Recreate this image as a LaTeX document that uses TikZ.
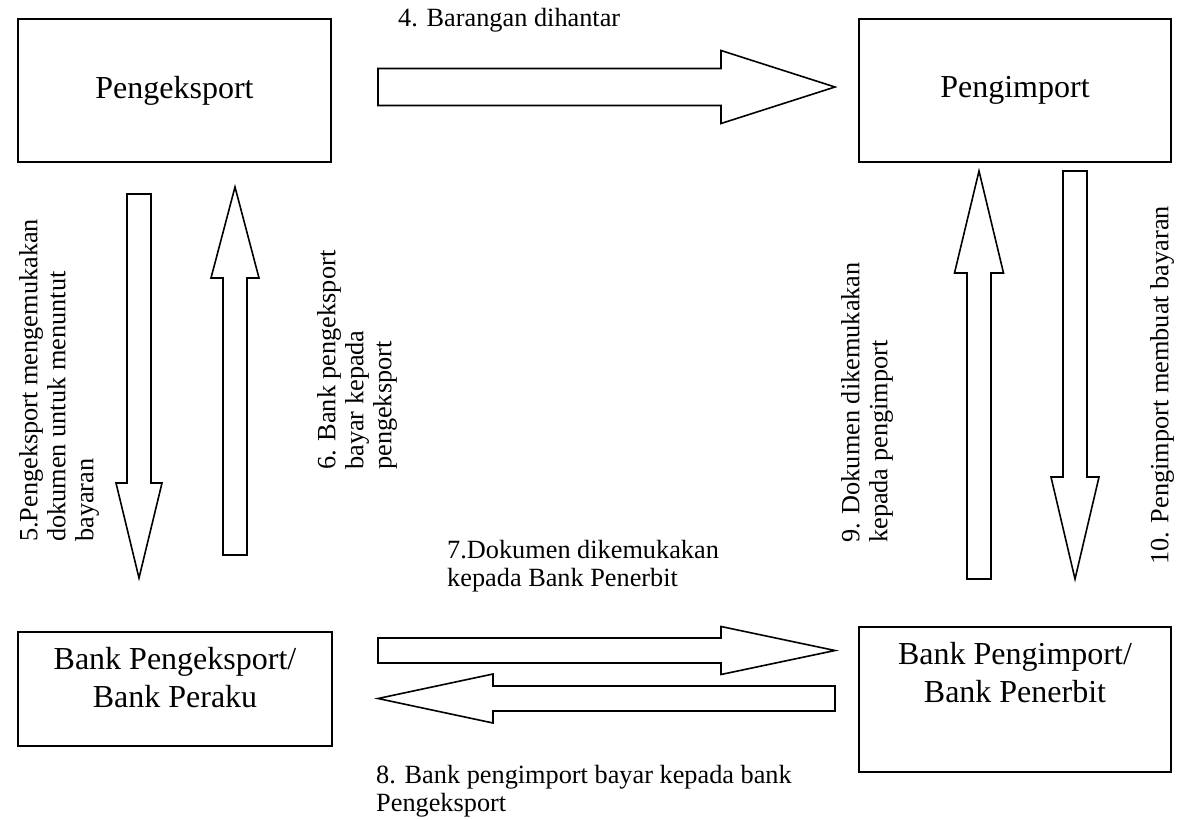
\documentclass[tikz,border=0pt]{standalone}
\usepackage{fontspec}
\setmainfont{Liberation Serif}
\usetikzlibrary{calc,positioning}

\providecommand{\colorLine}{black}
\providecommand{\colorFill}{white}
\providecommand{\strokewidth}{1.6pt}
\providecommand{\boxfont}{\fontsize{32}{38}\selectfont}
\providecommand{\labelfont}{\fontsize{26.3}{28}\selectfont}

% block arrow: #1 tail, #2 tip, #3 half shaft width, #4 half head width, #5 head length
\newcommand{\blockarrow}[5]{%
    \coordinate (headbase) at ($(#2)!#5!(#1)$);
    \draw[block_arrow]
        ($(#1)!#3!90:(#2)$) -- ($(headbase)!#3!-90:(#1)$) -- ($(headbase)!#4!-90:(#1)$)
        -- (#2)
        -- ($(headbase)!#4!90:(#1)$) -- ($(headbase)!#3!90:(#1)$) -- ($(#1)!#3!-90:(#2)$) -- cycle;
}

\begin{document}
\begin{tikzpicture}[
    x=1pt, y=-1pt,
    % Box styles
    party_box/.style={
        rectangle,
        draw=\colorLine,
        line width=\strokewidth,
        fill=\colorFill,
        inner sep=0pt,
        font=\boxfont,
        align=center
    },
    box_text/.style={
        inner sep=0pt,
        font=\boxfont,
        align=center
    },
    % Arrow style
    block_arrow/.style={
        draw=\colorLine,
        line width=\strokewidth,
        fill=\colorFill,
        line join=miter
    },
    step_label/.style={
        inner sep=0pt,
        anchor=north west,
        font=\labelfont,
        align=left
    }
]
    \useasboundingbox (0,0) rectangle (1177,819);

    % ==================== PARTIES ====================
    \node[party_box, minimum width=313pt, minimum height=143pt] (eksport) at (174.5, 90.5) {Pengeksport};
    \node[party_box, minimum width=312pt, minimum height=143pt] (import) at (1015, 90.5) {Pengimport};
    \node[party_box, minimum width=314pt, minimum height=114pt] (bankeksport) at (175, 689) {};
    \node[party_box, minimum width=312pt, minimum height=145pt] (bankimport) at (1015, 699.5) {};

    % Bank names sit in the upper part of their boxes
    \node[box_text, below=16pt of bankeksport.north] (bankeksporttxt) {Bank Pengeksport/\\Bank Peraku};
    \node[box_text, below=16pt of bankimport.north] (bankimporttxt) {Bank Pengimport/\\Bank Penerbit};

    % ==================== ARROWS ====================
    % top: goods shipped
    \coordinate (a4s) at (378, 87);
    \coordinate (a4e) at (835, 87);
    \blockarrow{a4s}{a4e}{18.5pt}{36.5pt}{114pt}

    % left pair
    \coordinate (a5s) at (139, 194);
    \coordinate (a5e) at (139, 578);
    \blockarrow{a5s}{a5e}{12pt}{23pt}{95pt}
    \coordinate (a6s) at (235, 555);
    \coordinate (a6e) at (235, 187);
    \blockarrow{a6s}{a6e}{12pt}{24pt}{91pt}

    % bottom pair
    \coordinate (a7s) at (378, 650.5);
    \coordinate (a7e) at (835, 650.5);
    \blockarrow{a7s}{a7e}{12.5pt}{24pt}{114pt}
    \coordinate (a8s) at (835, 698.5);
    \coordinate (a8e) at (378, 698.5);
    \blockarrow{a8s}{a8e}{12.5pt}{24.5pt}{115pt}

    % right pair
    \coordinate (a9s) at (979, 579);
    \coordinate (a9e) at (979, 171);
    \blockarrow{a9s}{a9e}{12pt}{24.5pt}{102pt}
    \coordinate (a10s) at (1075, 171);
    \coordinate (a10e) at (1075, 579);
    \blockarrow{a10s}{a10e}{12pt}{24pt}{102pt}

    % ==================== LABELS ====================
    \node[step_label] (l4) at (398, 8.5) {4. Barangan dihantar};
    \node[step_label, rotate=90] (l5) at (19, 542) {5.Pengeksport mengemukakan\\dokumen untuk menuntut\\bayaran};
    \node[step_label, rotate=90] (l6) at (317, 470) {6. Bank pengeksport\\bayar kepada\\pengeksport};
    \node[step_label] (l7) at (447, 540) {7.Dokumen dikemukakan\\kepada Bank Penerbit};
    \node[step_label] (l8) at (376, 765) {8. Bank pengimport bayar kepada bank\\Pengeksport};
    \node[step_label, rotate=90] (l9) at (841, 543) {9. Dokumen dikemukakan\\kepada pengimport};
    \node[step_label, rotate=90] (l10) at (1150, 565) {10. Pengimport membuat bayaran};

\end{tikzpicture}
\end{document}
